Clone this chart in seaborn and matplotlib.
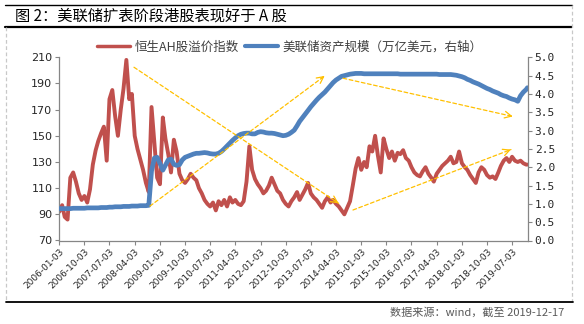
import matplotlib
matplotlib.use("Agg")
import matplotlib.pyplot as plt
import matplotlib.dates as mdates
from matplotlib.lines import Line2D
import seaborn as sns
import pandas as pd
import numpy as np

sns.set_style("white")
plt.rcParams['font.family'] = ['Noto Sans CJK SC', 'DejaVu Sans']
plt.rcParams['axes.unicode_minus'] = False

# ---------------- data ----------------
start_date = "2006-01-03"
end_date = "2019-12-17"

# 恒生AH股溢价指数 (monthly readings, Jan 2006 - Dec 2019, plus last day)
ah_premium = [
    92, 97, 88, 86, 118, 122, 115, 106, 101, 104, 99, 109,
    128, 139, 146, 152, 157, 131, 178, 185, 165, 150, 170, 186,
    208, 178, 182, 150, 140, 132, 124, 114, 107, 172, 145, 118,
    113, 164, 148, 136, 122, 147, 138, 121, 116, 114, 117, 121,
    118, 116, 110, 106, 101, 98, 96, 99, 93, 100, 97, 101,
    96, 103, 99, 101, 98, 97, 100, 115, 142, 124, 117, 113,
    110, 106, 108, 112, 118, 113, 108, 106, 101, 98, 96, 100,
    103, 107, 101, 105, 109, 114, 106, 103, 101, 98, 95, 100,
    103, 99, 101, 98, 96, 93, 90, 95, 100, 112, 125, 133,
    124, 130, 126, 142, 138, 150, 135, 122, 148, 140, 133, 138,
    131, 137, 136, 139, 133, 131, 126, 122, 120, 119, 123, 126,
    121, 118, 115, 121, 124, 127, 129, 131, 134, 129, 130, 138,
    129, 126, 124, 120, 117, 114, 122, 126, 124, 120, 118, 119,
    117, 122, 127, 131, 133, 130, 134, 131, 130, 131, 129, 128,
    128,
]

# 美联储资产规模（万亿美元）
fed_assets = [
    0.87, 0.87, 0.87, 0.87, 0.87, 0.88, 0.88, 0.88, 0.88, 0.88, 0.89, 0.89,
    0.89, 0.89, 0.89, 0.90, 0.90, 0.90, 0.91, 0.91, 0.92, 0.92, 0.92, 0.93,
    0.93, 0.93, 0.94, 0.94, 0.94, 0.95, 0.95, 0.95, 0.96, 1.90, 2.25, 2.27,
    2.10, 1.92, 2.05, 2.20, 2.22, 2.08, 2.05, 2.07, 2.20, 2.27, 2.30, 2.33,
    2.36, 2.38, 2.38, 2.39, 2.40, 2.39, 2.37, 2.36, 2.36, 2.38, 2.43, 2.50,
    2.58, 2.66, 2.73, 2.80, 2.86, 2.90, 2.92, 2.93, 2.93, 2.91, 2.91, 2.95,
    2.97, 2.96, 2.94, 2.93, 2.93, 2.92, 2.90, 2.88, 2.86, 2.87, 2.90, 2.95,
    3.01, 3.13, 3.25, 3.35, 3.45, 3.55, 3.65, 3.74, 3.83, 3.91, 3.98, 4.05,
    4.14, 4.23, 4.31, 4.38, 4.43, 4.48, 4.50, 4.52, 4.54, 4.55, 4.56, 4.56,
    4.56, 4.55, 4.55, 4.55, 4.55, 4.55, 4.55, 4.55, 4.55, 4.55, 4.55, 4.55,
    4.55, 4.55, 4.54, 4.54, 4.54, 4.54, 4.54, 4.54, 4.54, 4.54, 4.54, 4.54,
    4.54, 4.54, 4.54, 4.54, 4.53, 4.53, 4.53, 4.53, 4.53, 4.52, 4.51, 4.49,
    4.47, 4.44, 4.40, 4.37, 4.33, 4.30, 4.27, 4.23, 4.19, 4.15, 4.12, 4.08,
    4.05, 4.02, 3.98, 3.95, 3.93, 3.89, 3.86, 3.84, 3.80, 3.95, 4.05, 4.12,
    4.17,
]

tick_labels = [
    "2006-01-03", "2006-10-03", "2007-07-03", "2008-04-03", "2009-01-03",
    "2009-10-03", "2010-07-03", "2011-04-03", "2012-01-03", "2012-10-03",
    "2013-07-03", "2014-04-03", "2015-01-03", "2015-10-03", "2016-07-03",
    "2017-04-03", "2018-01-03", "2018-10-03", "2019-07-03",
]

# trend arrows (start date, start value, end date, end value) on left-axis scale
arrows = [
    ("2008-03-26", 202.4, "2014-05-02", 98.4),
    ("2008-09-16", 96.3, "2013-12-01", 195.8),
    ("2014-06-19", 194.0, "2019-07-10", 164.8),
    ("2014-10-05", 93.3, "2019-06-21", 139.5),
]

series1_name = "恒生AH股溢价指数"
series2_name = "美联储资产规模（万亿美元，右轴）"
title = "图 2：美联储扩表阶段港股表现好于 A 股"
source = "数据来源：wind，截至 2019-12-17"

# ---------------- build frame ----------------
dates = list(pd.date_range(start_date, periods=168, freq=pd.DateOffset(months=1)))
dates.append(pd.Timestamp(end_date))
df = pd.DataFrame({"date": dates, "ah": ah_premium, "fed": fed_assets})

RED = "#C0504D"
BLUE = "#4F81BD"
GRAY = "#868686"
ORANGE = "#FFC000"

W, H = 584, 324
fig = plt.figure(figsize=(W / 100, H / 100), dpi=100)
ax = fig.add_axes([59.3 / W, 1 - 240.5 / H, (527.7 - 59.3) / W, (240.5 - 57.3) / H])
ax2 = ax.twinx()

sns.lineplot(data=df, x="date", y="ah", ax=ax, color=RED, lw=2.8, legend=False)
sns.lineplot(data=df, x="date", y="fed", ax=ax2, color=BLUE, lw=3.4, legend=False)

ax.set_xlim(pd.Timestamp(start_date), pd.Timestamp("2019-12-20"))
ax.set_ylim(70, 210)
ax.set_yticks(np.arange(70, 211, 20))
ax2.set_ylim(0, 5)
ax2.set_yticks(np.arange(0, 5.01, 0.5))
ax2.set_yticklabels([f"{v:.1f}" for v in np.arange(0, 5.01, 0.5)])

tick_dates = [pd.Timestamp(t) for t in tick_labels]
ax.set_xticks(tick_dates)
ax.set_xticklabels(tick_labels, rotation=45, ha="right", rotation_mode="anchor",
                   fontsize=6.5, family=["DejaVu Sans"])
ax.set_xlabel("")
ax.set_ylabel("")
ax2.set_ylabel("")

for a in (ax, ax2):
    a.spines["top"].set_visible(False)
    for s in ("left", "right", "bottom"):
        a.spines[s].set_color(GRAY)
        a.spines[s].set_linewidth(0.9)
ax.spines["right"].set_visible(False)
ax2.spines["left"].set_visible(False)
ax2.spines["bottom"].set_visible(False)

ax.tick_params(axis="y", direction="out", length=3, width=0.8, color=GRAY,
               labelsize=8, pad=2, left=True)
ax.tick_params(axis="x", direction="out", length=3, width=0.8, color=GRAY,
               pad=2, bottom=True)
ax2.tick_params(axis="y", direction="out", length=3, width=0.8, color=GRAY,
                labelsize=8, pad=2, right=True)
for lab in ax.get_yticklabels():
    lab.set_family(["DejaVu Sans"])
for lab in ax2.get_yticklabels():
    lab.set_family(["DejaVu Sans Mono"])

# arrows (drawn on the top axes, in left-axis data coordinates)
for (d0, v0, d1, v1) in arrows:
    x0 = mdates.date2num(pd.Timestamp(d0))
    x1 = mdates.date2num(pd.Timestamp(d1))
    ax2.annotate("", xy=(x1, v1), xytext=(x0, v0),
                 xycoords=ax.transData, textcoords=ax.transData,
                 arrowprops=dict(arrowstyle="-", color=ORANGE, lw=0.9,
                                 linestyle=(0, (3, 2)), shrinkA=0, shrinkB=0),
                 zorder=5)
    ax2.annotate("", xy=(x1, v1), xytext=(x1 - (x1 - x0) * 0.02, v1 - (v1 - v0) * 0.02),
                 xycoords=ax.transData, textcoords=ax.transData,
                 arrowprops=dict(arrowstyle="->", color=ORANGE, lw=0.9,
                                 mutation_scale=12, shrinkA=0, shrinkB=0),
                 zorder=5)

# legend
handles = [Line2D([0], [0], color=RED, lw=2.5), Line2D([0], [0], color=BLUE, lw=3)]
fig.legend(handles, [series1_name, series2_name], loc="center",
           bbox_to_anchor=(290 / W, 1 - 47 / H), ncol=2, frameon=False,
           fontsize=9, handlelength=2.6, handletextpad=0.4, columnspacing=0.5,
           labelcolor="#404040")

# title & frame
fig.text(15 / W, 1 - 16 / H, title, fontsize=11, va="center", ha="left", color="black")
fig.add_artist(Line2D([5 / W, 572 / W], [1 - 5 / H, 1 - 5 / H], color="black", lw=1.0))
fig.add_artist(Line2D([5 / W, 572 / W], [1 - 27 / H, 1 - 27 / H], color="black", lw=1.6))
fig.add_artist(Line2D([6 / W, 6 / W], [1 - 27 / H, 1 - 301 / H], color="#C8C8C8", lw=0.9, ls=(0, (3, 2))))
fig.add_artist(Line2D([572 / W, 572 / W], [1 - 5 / H, 1 - 301 / H], color="#C8C8C8", lw=0.9, ls=(0, (3, 2))))
fig.add_artist(Line2D([6 / W, 573 / W], [1 - 301.5 / H, 1 - 301.5 / H], color="black", lw=1.3))
fig.text(564 / W, 1 - 312 / H, source, fontsize=8, va="center", ha="right", color="#595959")

fig.savefig("out.png", dpi=100)
